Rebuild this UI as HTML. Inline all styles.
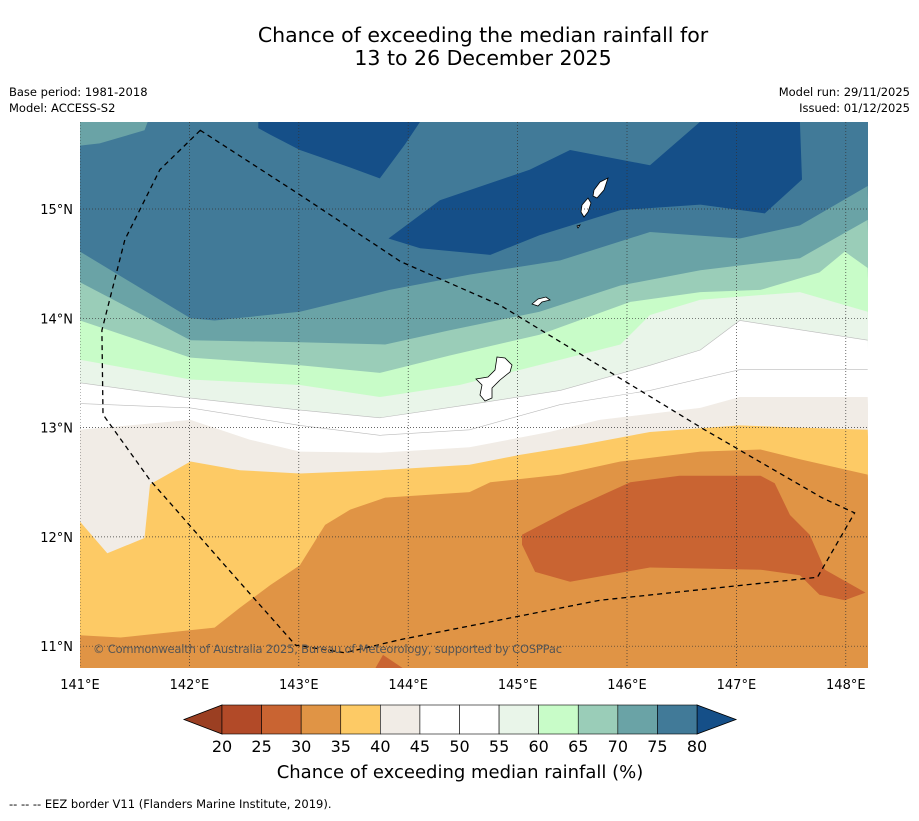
<!DOCTYPE html>
<html><head><meta charset="utf-8">
<style>
body{margin:0;background:#fff;font-family:"Liberation Sans","DejaVu Sans",sans-serif;}
svg text{font-family:"DejaVu Sans","Liberation Sans",sans-serif;}
</style></head>
<body>
<svg id="chart" width="919" height="816" xmlns="http://www.w3.org/2000/svg">
<rect width="919" height="816" fill="#fff"/>
<text x="483" y="42" font-size="20.5" text-anchor="middle">Chance of exceeding the median rainfall for</text>
<text x="483" y="65" font-size="20.5" text-anchor="middle">13 to 26 December 2025</text>
<text x="9" y="96" font-size="11.5">Base period: 1981-2018</text>
<text x="9" y="112" font-size="11.5">Model: ACCESS-S2</text>
<text x="910" y="96" font-size="11.5" text-anchor="end">Model run: 29/11/2025</text>
<text x="910" y="112" font-size="11.5" text-anchor="end">Issued: 01/12/2025</text>
<defs><clipPath id="mapclip"><rect x="80" y="122" width="788" height="546"/></clipPath></defs>
<g id="map" clip-path="url(#mapclip)"></g>
<g id="axes"></g>
<g id="cbar"></g>
<text x="460" y="778" font-size="18" text-anchor="middle">Chance of exceeding median rainfall (%)</text>
<text x="9" y="808" font-size="11.5">--  --  -- EEZ border V11 (Flanders Marine Institute, 2019).</text>
</svg>
<script>
const levels=[20,25,30,35,40,45,50,55,60,65,70,75,80];
const colors=["#9b3f22","#b24a28","#c96432","#e09445","#fdca65","#f1ece6","#ffffff","#ffffff","#e9f5e9","#c8fcc8","#9acdb8","#6aa3a6","#417a98","#154f88"];
const lonTicks=[141,142,143,144,145,146,147,148];
const latTicks=[11,12,13,14,15];
const b75=[[141,14.61],[142.01,14.0],[142.23,13.98],[143.01,14.06],[143.83,14.26],[144.56,14.40],[145.39,14.53],[146.21,14.79],[147.03,14.73],[147.58,14.85],[148.2,15.21]];
const b70=[[141,14.33],[142.01,13.80],[143.01,13.78],[143.79,13.76],[144.38,13.89],[145.2,14.06],[145.94,14.30],[146.67,14.44],[147.58,14.55],[148.2,14.9]];
const b65=[[141,13.98],[142.01,13.64],[143.01,13.57],[143.74,13.50],[144.38,13.66],[145.2,13.85],[146.03,14.15],[146.67,14.24],[147.22,14.26],[147.76,14.42],[147.99,14.61],[148.2,14.46]];
const b60=[[141,13.62],[142.01,13.44],[143.01,13.39],[143.74,13.28],[144.47,13.39],[145.39,13.62],[145.94,13.76],[146.21,14.03],[146.67,14.17],[147.58,14.24],[148.2,14.06]];
const b55=[[141,13.41],[142.01,13.27],[143.01,13.16],[143.74,13.09],[144.56,13.21],[145.39,13.34],[146.21,13.57],[146.67,13.71],[147.03,13.98],[148.2,13.80]];
const b50=[[141,13.22],[142.01,13.18],[143.01,13.02],[143.74,12.93],[144.56,12.98],[145.39,13.21],[146.21,13.34],[147.03,13.53],[148.2,13.53]];
const b45=[[141,12.98],[142.01,13.07],[142.55,12.89],[143.01,12.78],[143.74,12.77],[144.56,12.82],[145.29,12.96],[145.75,13.07],[146.67,13.18],[147.03,13.28],[148.2,13.28]];
const b40=[[141,12.14],[141.25,11.85],[141.59,11.99],[141.64,12.48],[142.01,12.69],[142.46,12.61],[143.01,12.58],[143.74,12.61],[144.56,12.66],[145.02,12.75],[145.57,12.84],[146.21,12.96],[147.03,13.02],[147.58,13.0],[148.2,12.98]];
const b35=[[141,11.10],[141.37,11.08],[142.23,11.17],[142.46,11.35],[142.74,11.56],[143.01,11.74],[143.24,12.11],[143.47,12.25],[143.79,12.36],[144.56,12.41],[144.75,12.50],[145.39,12.57],[145.94,12.69],[146.67,12.78],[147.22,12.80],[147.58,12.71],[148.2,12.57]];
const patch25a=[[145.04,12.02],[145.48,12.25],[146.03,12.50],[146.48,12.56],[147.22,12.56],[147.35,12.49],[147.49,12.2],[147.67,12.02],[147.81,11.70],[148.18,11.49],[147.99,11.42],[147.76,11.47],[147.58,11.65],[147.22,11.70],[146.21,11.72],[145.48,11.59],[145.16,11.68],[145.04,11.93]];
const patch25b=[[143.70,10.80],[143.77,10.92],[143.95,10.80]];
const patch80a=[[142.63,15.80],[144.11,15.80],[143.97,15.59],[143.74,15.28],[143.47,15.38],[143.01,15.54],[142.74,15.68],[142.63,15.74]];
const patch80b=[[143.82,14.73],[144.29,15.08],[145.11,15.36],[145.48,15.54],[146.21,15.40],[146.67,15.80],[147.58,15.80],[147.60,15.27],[147.26,14.96],[146.67,15.04],[145.94,14.99],[145.20,14.76],[144.75,14.58],[144.11,14.64]];
const patch70=[[141,15.80],[141.62,15.80],[141.59,15.72],[141.18,15.60],[141,15.58]];
const eez=[[142.10,15.72],[141.73,15.36],[141.41,14.72],[141.20,13.89],[141.21,13.12],[141.64,12.52],[142.28,11.79],[142.97,11.01],[143.42,10.94],[143.93,11.06],[145.75,11.42],[147.74,11.63],[148.08,12.22],[147.78,12.36],[146.71,12.98],[144.84,14.12],[143.93,14.52],[143.01,15.13]];

const NS="http://www.w3.org/2000/svg";
function lonx(lon){return 80+(lon-141)*109.4;}
function laty(lat){return 209+(15-lat)*109.3;}
function mk(tag,attrs,parent){const e=document.createElementNS(NS,tag);for(const k in attrs)e.setAttribute(k,attrs[k]);parent.appendChild(e);return e;}
function pts(a){return a.map(p=>lonx(p[0]).toFixed(1)+","+laty(p[1]).toFixed(1)).join(" ");}
const map=document.getElementById('map');
let bg=mk('rect',{x:80,y:122,width:788,height:546,fill:colors[12]},map);


function band(b,color,name){
  const a=b.concat([[148.3,10.7],[140.9,10.7]]);
  const p=mk('polygon',{points:pts(a),fill:color},map);
  
  
}
band(b75,colors[11],'band-70-75');
band(b70,colors[10],'band-65-70');
band(b65,colors[9],'band-60-65');
band(b60,colors[8],'band-55-60');
band(b55,colors[7],'band-50-55');
band(b50,colors[6],'band-45-50');
band(b45,colors[5],'band-40-45');
band(b40,colors[4],'band-35-40');
band(b35,colors[3],'band-30-35');
[[b55,'contour-55'],[b50,'contour-50']].forEach(([b,n])=>{
  const l=mk('polyline',{points:pts(b),fill:'none',stroke:'#bbb','stroke-width':0.6},map);
  
  
});
function patch(a,color,name){
  const p=mk('polygon',{points:pts(a),fill:color},map);
  
  
}
patch(patch25a,colors[2],'patch-25-30-east');
patch(patch25b,colors[2],'patch-25-30-south');
patch(patch80a,colors[13],'patch-above-80-north');
patch(patch80b,colors[13],'patch-above-80-east');
patch(patch70,colors[11],'patch-70-75-corner');
const isl=[["M497,357 L505,358 L512,365 L510,372 L500,380 L492,388 L492,398 L485,401 L480,395 L482,385 L476,379 L488,377 L495,370 Z",'island-guam'],
["M532,304 L538,299 L546,297 L550,300 L542,302 L538,306 Z",'island-rota'],
["M582,205 L588,198 L591,203 L588,212 L584,217 L581,212 Z M594,190 L600,182 L608,178 L604,190 L597,198 L593,196 Z M577,226 L580,225 L578,228 Z",'island-saipan-tinian']];
isl.forEach(([d,n])=>{
  const p=mk('path',{d:d,fill:'#fff',stroke:'#000','stroke-width':0.8},map);
  
  
});
lonTicks.forEach(l=>{
  const g=mk('line',{x1:lonx(l),x2:lonx(l),y1:122,y2:668,stroke:'#333','stroke-width':0.7,'stroke-dasharray':'1,2'},map);
  
  
});
latTicks.forEach(l=>{
  const g=mk('line',{x1:80,x2:868,y1:laty(l),y2:laty(l),stroke:'#333','stroke-width':0.7,'stroke-dasharray':'1,2'},map);
  
  
});
const ez=mk('polygon',{points:pts(eez),fill:'none',stroke:'#000','stroke-width':1.3,'stroke-dasharray':'5,4'},map);


const cp=mk('text',{x:93,y:653,'font-size':11.5,fill:'#555','letter-spacing':'-0.2'},map);
cp.textContent='© Commonwealth of Australia 2025, Bureau of Meteorology, supported by COSPPac';


const axes=document.getElementById('axes');
lonTicks.forEach(l=>{
  const t=mk('text',{x:lonx(l),y:689,'font-size':13,'text-anchor':'middle'},axes);
  t.textContent=l+'°E';
  
  
});
latTicks.forEach(l=>{
  const t=mk('text',{x:73,y:laty(l)+5,'font-size':13,'text-anchor':'end'},axes);
  t.textContent=l+'°N';
  
  
});
const cb=document.getElementById('cbar');
const cx0=222,cx1=697,cy=705,ch=29,bw=(cx1-cx0)/(levels.length-1);
let lt=mk('polygon',{points:`184,${cy+ch/2} ${cx0},${cy} ${cx0},${cy+ch}`,fill:colors[0],stroke:'#000','stroke-width':0.8},cb);


let rt=mk('polygon',{points:`736,${cy+ch/2} ${cx1},${cy} ${cx1},${cy+ch}`,fill:colors[13],stroke:'#000','stroke-width':0.8},cb);


for(let i=0;i<levels.length-1;i++){
  const r=mk('rect',{x:cx0+i*bw,y:cy,width:bw,height:ch,fill:colors[i+1],stroke:'#000','stroke-width':0.6},cb);
  
  
}
levels.forEach((v,i)=>{
  const t=mk('text',{x:cx0+i*bw,y:752,'font-size':16,'text-anchor':'middle'},cb);
  t.textContent=v;
  
  
});
</script>
</body></html>
